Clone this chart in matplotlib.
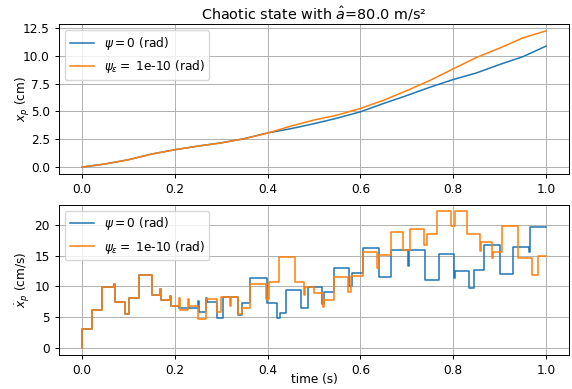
import matplotlib
matplotlib.use("Agg")
import matplotlib.pyplot as plt

# ---- data -------------------------------------------------------------
# Particle position x_p (cm), sampled every 0.05 s
t_pos = [0.00, 0.05, 0.10, 0.15, 0.20, 0.25, 0.30, 0.35, 0.40, 0.45, 0.50,
         0.55, 0.60, 0.65, 0.70, 0.75, 0.80, 0.85, 0.90, 0.95, 1.00]
x_psi0 = [0.00, 0.28, 0.66, 1.17, 1.56, 1.89, 2.18, 2.56, 3.07, 3.45, 3.90,
          4.40, 4.97, 5.72, 6.43, 7.18, 7.87, 8.46, 9.22, 9.92, 10.87]
x_psieps = [0.00, 0.28, 0.66, 1.17, 1.56, 1.88, 2.17, 2.55, 3.06, 3.68, 4.23,
            4.67, 5.27, 6.01, 6.87, 7.79, 8.83, 9.85, 10.69, 11.61, 12.24]

# Particle velocity (cm/s), piecewise constant: value holds from each time on
t_vel_psi0 = [0.0, 0.0005, 0.021, 0.043, 0.068, 0.070, 0.093, 0.101, 0.123,
              0.150, 0.169, 0.171, 0.189, 0.191, 0.209, 0.249, 0.251, 0.268,
              0.270, 0.291, 0.304, 0.337, 0.345, 0.363, 0.398, 0.420, 0.426,
              0.440, 0.472, 0.488, 0.517, 0.522, 0.542, 0.576, 0.581, 0.605,
              0.640, 0.666, 0.702, 0.704, 0.740, 0.769, 0.801, 0.803, 0.835,
              0.845, 0.867, 0.901, 0.928, 0.963, 0.965, 1.0]
v_psi0 = [0.0, 3.1, 6.2, 9.85, 10.4, 7.45, 5.5, 8.15, 11.85,
          8.65, 9.6, 7.85, 8.4, 6.75, 6.45, 7.6, 5.85, 8.1,
          7.45, 4.9, 8.3, 5.4, 7.3, 11.35, 7.25, 4.85, 5.75,
          9.4, 6.5, 9.9, 7.15, 9.1, 13.05, 10.0, 12.2, 16.2,
          11.6, 16.0, 13.3, 16.0, 11.0, 15.2, 11.3, 12.45, 9.75,
          12.6, 16.7, 12.1, 16.4, 15.6, 19.7, 19.7]

t_vel_psieps = [0.0, 0.0005, 0.021, 0.043, 0.068, 0.070, 0.093, 0.101, 0.123,
                0.150, 0.169, 0.171, 0.189, 0.191, 0.209, 0.211, 0.228, 0.230,
                0.249, 0.268, 0.291, 0.299, 0.318, 0.320, 0.337, 0.344, 0.363,
                0.396, 0.404, 0.425, 0.459, 0.478, 0.481, 0.500, 0.519, 0.522,
                0.543, 0.573, 0.580, 0.605, 0.635, 0.641, 0.665, 0.692, 0.707,
                0.737, 0.744, 0.766, 0.795, 0.805, 0.829, 0.857, 0.860, 0.883,
                0.885, 0.905, 0.940, 0.970, 0.982, 1.0]
v_psieps = [0.0, 3.1, 6.2, 9.85, 10.4, 7.45, 5.5, 8.15, 11.85,
            8.65, 9.6, 7.85, 8.4, 6.75, 8.1, 6.25, 8.0, 6.9,
            4.65, 7.95, 5.85, 8.3, 6.9, 8.3, 5.5, 6.5, 10.35,
            8.0, 10.75, 14.75, 10.8, 8.6, 9.9, 8.9, 6.7, 7.85,
            11.5, 9.1, 11.75, 15.55, 13.0, 15.1, 18.85, 16.0, 19.35,
            16.7, 18.6, 22.2, 19.8, 22.2, 18.6, 15.7, 17.2, 14.7,
            15.6, 19.9, 14.6, 11.9, 14.9, 14.9]

label_psi0 = r"$\psi = 0$ (rad)"
label_psieps = r"$\psi_\epsilon=$ 1e-10 (rad)"

# ---- figure -----------------------------------------------------------
plt.rcParams.update({
    "font.size": 8.7,
    "axes.linewidth": 0.7,
    "grid.linewidth": 0.7,
    "xtick.major.width": 0.7,
    "ytick.major.width": 0.7,
    "xtick.major.size": 3.0,
    "ytick.major.size": 3.0,
})

fig = plt.figure(figsize=(5.72, 3.89), dpi=100)
ax1 = fig.add_axes([0.103, 0.553, 0.892, 0.385])
ax2 = fig.add_axes([0.103, 0.088, 0.892, 0.386])

ax1.plot(t_pos, x_psi0, color="C0", lw=1.1, label=label_psi0)
ax1.plot(t_pos, x_psieps, color="C1", lw=1.1, label=label_psieps)
ax1.set_title(r"Chaotic state with $\hat{a}$=80.0 m/s²", fontsize=10.4, pad=3.6)
ax1.set_ylabel(r"$x_p$ (cm)")
ax1.grid(True)
ax1.legend(loc="upper left")

ax2.step(t_vel_psi0, v_psi0, where="post", color="C0", lw=1.1, label=label_psi0)
ax2.step(t_vel_psieps, v_psieps, where="post", color="C1", lw=1.1, label=label_psieps)
ax2.set_xlabel("time (s)")
ax2.set_ylabel(r"$\dot{x}_p$ (cm/s)")
ax2.grid(True)
ax2.legend(loc="upper left")

# both y labels share one column; x label sits close under the ticks
for ax in (ax1, ax2):
    ax.yaxis.set_label_coords(-0.052, 0.5)
ax2.xaxis.set_label_coords(0.5, -0.12)

fig.savefig("out.png", dpi=100)
